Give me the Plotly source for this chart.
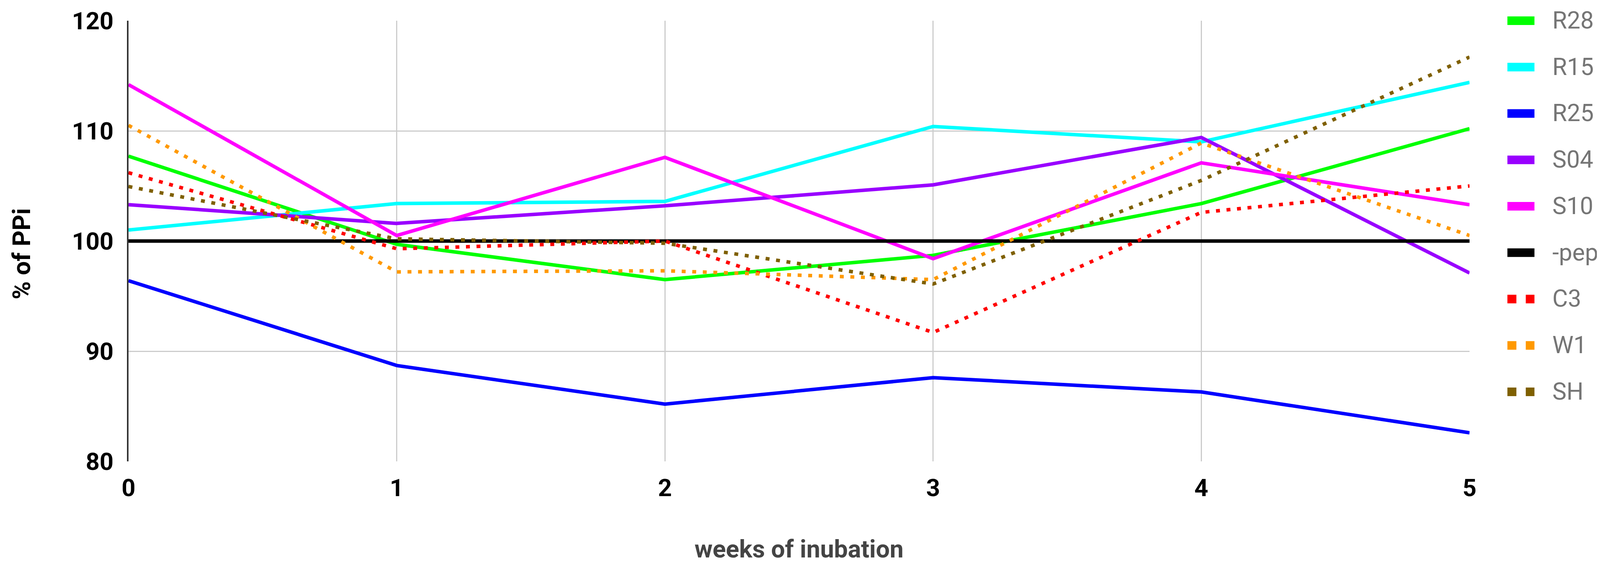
import plotly.graph_objects as go

weeks = [0, 1, 2, 3, 4, 5]
series_names = ["R28", "R15", "R25", "S04", "S10", "-pep", "C3", "W1", "SH"]
R28 = [107.7, 99.7, 96.5, 98.7, 103.4, 110.2]
R15 = [101.0, 103.4, 103.6, 110.4, 109.0, 114.4]
R25 = [96.4, 88.7, 85.2, 87.6, 86.3, 82.6]
S04 = [103.3, 101.6, 103.2, 105.1, 109.4, 97.1]
S10 = [114.2, 100.5, 107.6, 98.4, 107.1, 103.3]
PEP = [100, 100, 100, 100, 100, 100]
C3 = [106.2, 99.3, 100.0, 91.7, 102.6, 105.0]
W1 = [110.5, 97.2, 97.3, 96.5, 108.9, 100.5]
SH = [104.95, 100.2, 99.8, 96.1, 105.5, 116.7]
values = [R28, R15, R25, S04, S10, PEP, C3, W1, SH]
colors = ["#00ff00", "#00ffff", "#0000ff", "#9900ff", "#ff00ff", "#000000",
          "#ff0000", "#ff9900", "#7f6000"]
dotted = [False, False, False, False, False, False, True, True, True]

# layout geometry: picture pixels -> page CSS pixels (the capture is magnified ~1.011,
# and the page body has an 8px margin)
S = 1 / 1.011
OFF = 8
W, H = 4137, 1461


def cx(p):
    return p * S - OFF


ML, PR, MT, PB = cx(333), cx(3803), cx(54), cx(1194)
MR, MB = W - PR, H - PB
PW, PH = PR - ML, PB - MT


def paper_x(p):
    return (cx(p) - ML) / PW


def paper_y(p):
    return (PB - cx(p)) / PH


fig = go.Figure()
for name, vals, col, dt in zip(series_names, values, colors, dotted):
    fig.add_trace(go.Scatter(
        x=weeks, y=vals, name=name, mode="lines",
        line=dict(color=col, width=9, dash="10px,17px" if dt else "solid"),
        showlegend=False))

# custom legend (large swatches like the original)
shapes = []
annotations = []
for i, (name, col, dt) in enumerate(zip(series_names, colors, dotted)):
    yp = paper_y(54 + 120 * i)
    shapes.append(dict(type="line", xref="paper", yref="paper",
                       x0=paper_x(3901), x1=paper_x(3971), y0=yp, y1=yp,
                       line=dict(color=col, width=22, dash="23px,24px" if dt else "solid")))
    annotations.append(dict(xref="paper", yref="paper", x=paper_x(4015), y=paper_y(53 + 120 * i),
                            xanchor="left", yanchor="middle", text=name, showarrow=False,
                            font=dict(family="Roboto", size=61, color="#757575")))

# axis titles
annotations.append(dict(xref="paper", yref="paper", x=paper_x(2068), y=paper_y(1421),
                        xanchor="center", yanchor="middle", text="weeks of inubation",
                        showarrow=False,
                        font=dict(family="Roboto", size=63, color="#444444", weight="bold")))
annotations.append(dict(xref="paper", yref="paper", x=paper_x(57), y=paper_y(657),
                        xanchor="center", yanchor="middle", text="% of PPi", textangle=-90,
                        showarrow=False,
                        font=dict(family="Roboto", size=63, color="#000000", weight="bold")))

fig.update_layout(
    template="none",
    width=W, height=H,
    margin=dict(l=ML, r=MR, t=MT, b=MB, pad=0, autoexpand=False),
    paper_bgcolor="white", plot_bgcolor="white",
    shapes=shapes, annotations=annotations,
    font=dict(family="Roboto"),
    showlegend=False,
)
fig.update_xaxes(
    range=[0, 5], dtick=1, tick0=0, showgrid=True, gridcolor="#cccccc", gridwidth=3,
    zeroline=False, showline=False, ticks="", automargin=False,
    tickfont=dict(family="Roboto", size=62, color="#000000", weight="bold"),
    ticklabelstandoff=26,
)
fig.update_yaxes(
    range=[80, 120], dtick=10, tick0=80, showgrid=True, gridcolor="#cccccc", gridwidth=3,
    zeroline=False, showline=True, linecolor="#333333", linewidth=4, ticks="", automargin=False,
    tickfont=dict(family="Roboto", size=62, color="#000000", weight="bold"),
    ticklabelstandoff=22,
)

fig.write_html("out.html")
